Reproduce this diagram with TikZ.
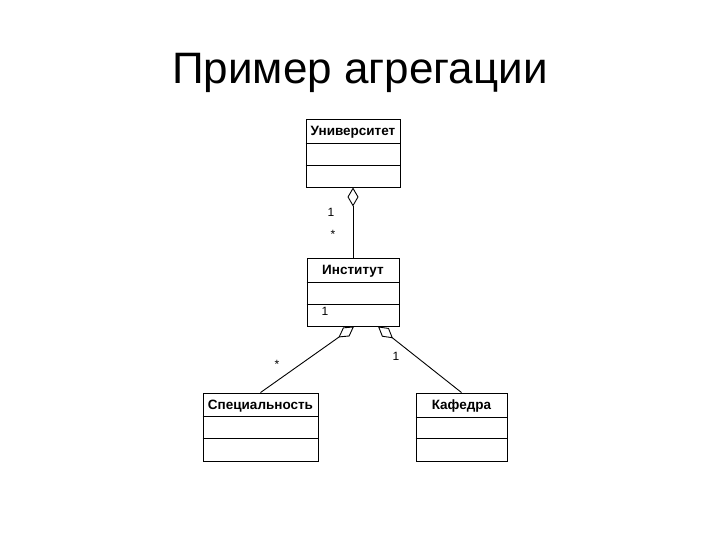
\documentclass[tikz,border=0pt]{standalone}
\usepackage{fontspec}
\setmainfont{Liberation Sans}
\usetikzlibrary{arrows.meta,calc}
\tikzset{
  classbox/.style={draw, line width=0.9pt, inner sep=0pt, minimum height=68pt},
  hdr/.style={font=\fontsize{13.5}{15}\selectfont\bfseries, inner sep=0pt},
  mult/.style={font=\fontsize{12}{14}\selectfont, inner sep=0pt},
  agg/.style={line width=0.9pt, {Diamond[open, length=19pt, width=11pt, line width=0.9pt]}-},
  sep/.style={line width=0.9pt}
}
\begin{document}
\begin{tikzpicture}[x=1pt,y=-1pt]
\useasboundingbox[fill=white] (0,0) rectangle (720,540);
\node[font=\fontsize{44}{50}\selectfont, anchor=base] (title) at (360,84) {Пример агрегации};
% classes
\node[classbox, minimum width=94pt] (uni) at (353,153) {};
\node[classbox, minimum width=92pt] (inst) at (353,292) {};
\node[classbox, minimum width=115pt] (spec) at (260.5,427) {};
\node[classbox, minimum width=91pt] (kaf) at (461.5,427) {};
% dividers
\foreach \n/\a/\b in {uni/25/47, inst/25/47, spec/24/46, kaf/25/46}{
  \draw[sep] ($(\n.north west)+(0,\a)$) -- ($(\n.north east)+(0,\a)$);
  \draw[sep] ($(\n.north west)+(0,\b)$) -- ($(\n.north east)+(0,\b)$);
}
% headers
\node[hdr] (unih) at (353,132) {Университет};
\node[hdr] (insth) at (353,271) {Институт};
\node[hdr] (spech) at (260.5,406) {Специальность};
\node[hdr] (kafh) at (461.5,406) {Кафедра};
% connectors
\draw[agg] (uni.south) -- (inst.north);
\coordinate (instL) at ($(inst.south)+(1,0)$);
\coordinate (instR) at ($(inst.south)+(25,0)$);
\draw[agg] (instL) -- (spec.north);
\draw[agg] (instR) -- (kaf.north);
% multiplicities
\node[mult] (m1) at (331,212) {1};
\node[mult] (m2) at (333,234) {*};
\node[mult] (m3) at (325,311) {1};
\node[mult] (m4) at (277,364) {*};
\node[mult] (m5) at (396,356) {1};
\end{tikzpicture}
\end{document}
